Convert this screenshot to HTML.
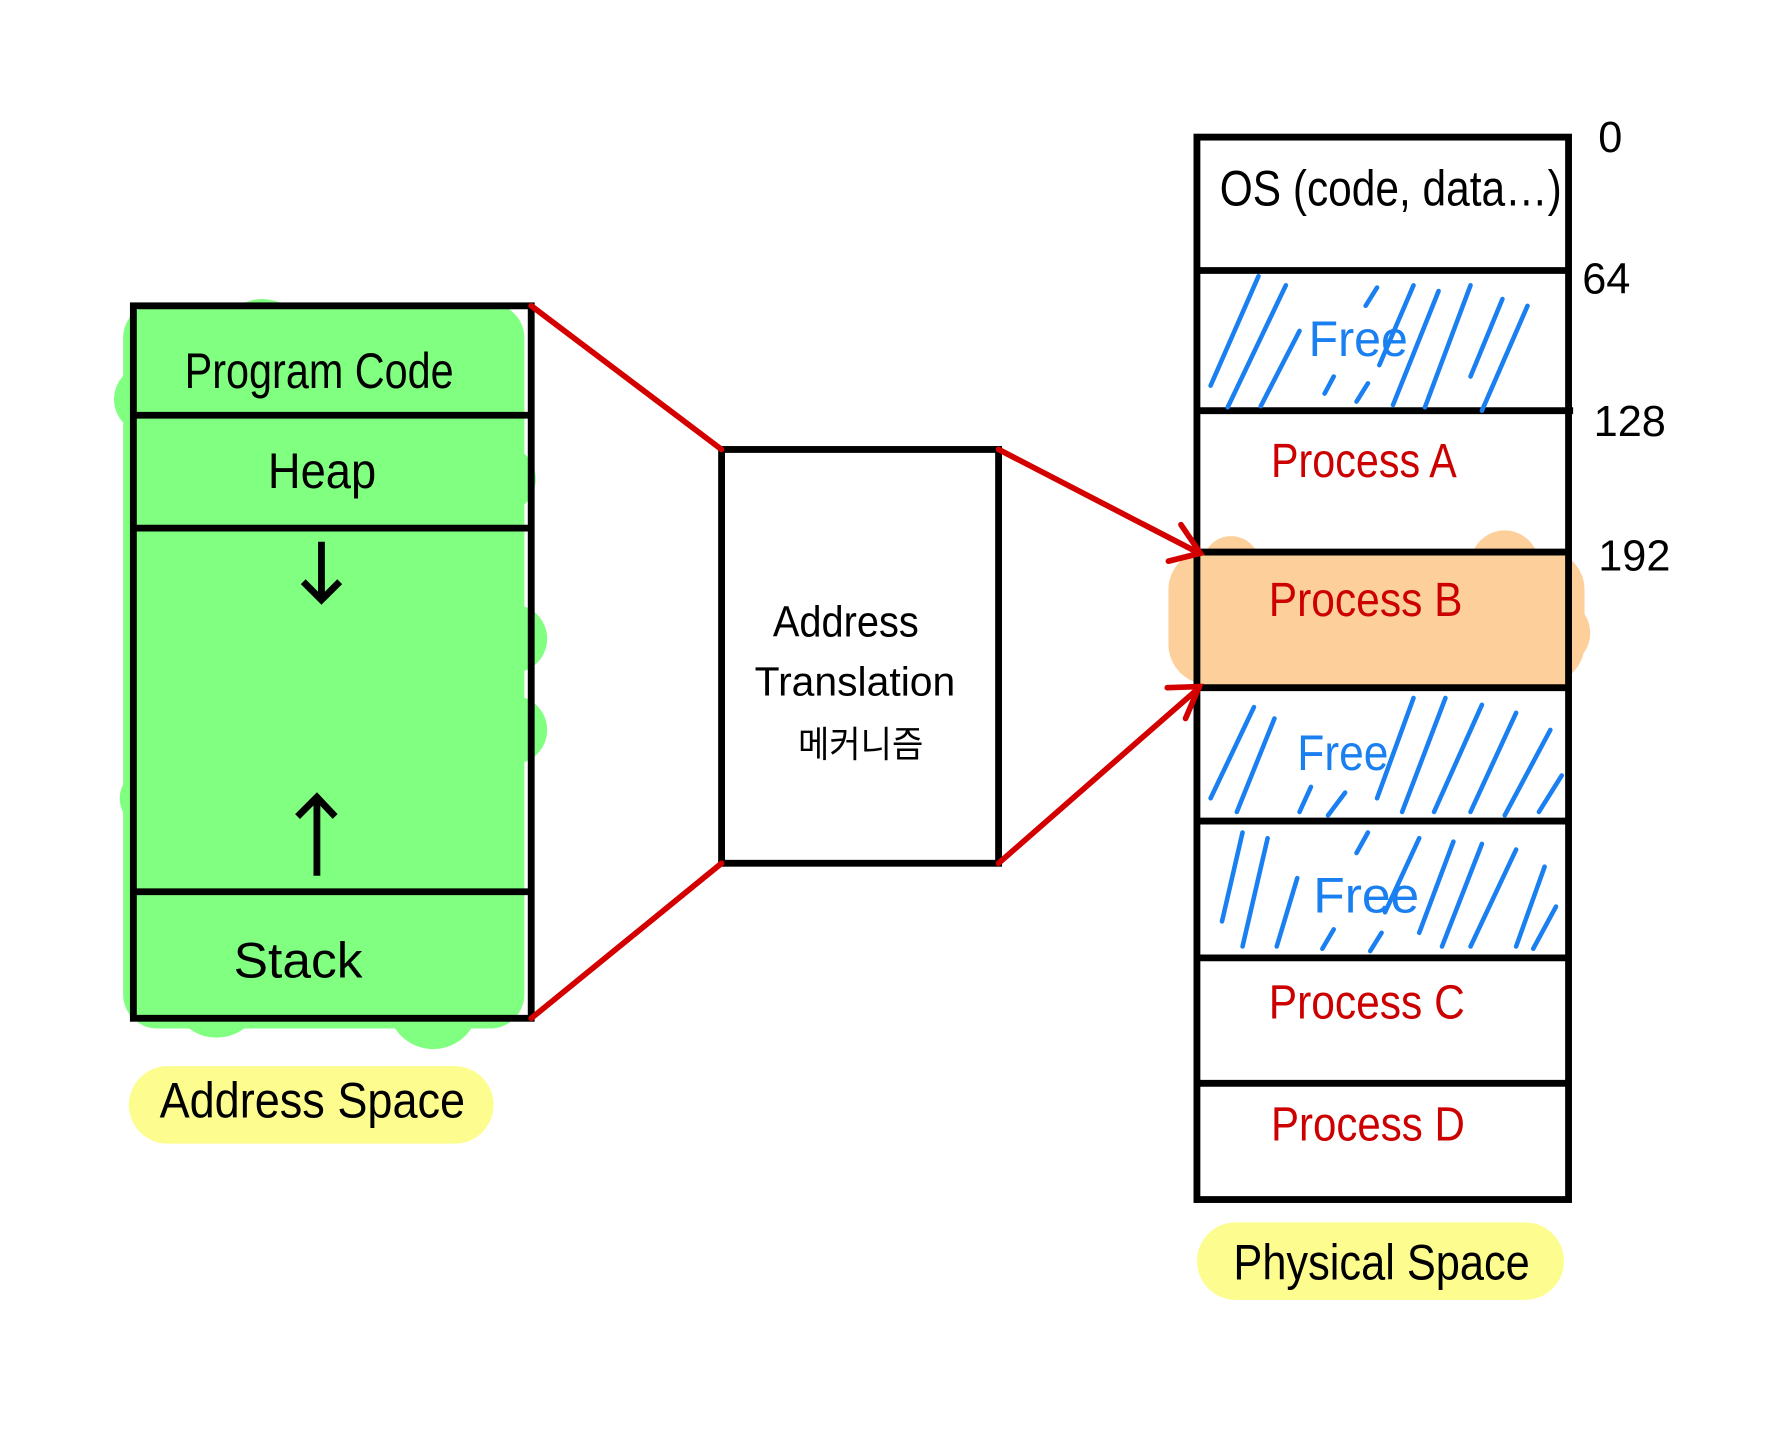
<!DOCTYPE html>
<html><head><meta charset="utf-8"><style>
html,body{margin:0;padding:0;background:#fff}
svg{display:block}
text{font-family:"Liberation Sans","Noto Sans CJK KR",sans-serif}
</style></head><body>
<svg width="1784" height="1429" viewBox="0 0 1565 1253" xmlns="http://www.w3.org/2000/svg">
<rect width="1565" height="1253" fill="#fff"/>
<g fill="#80ff80">
<rect x="108" y="266" width="352" height="636" rx="30"/>
<circle cx="230" cy="300" r="38"/><circle cx="420" cy="310" r="40"/>
<circle cx="130" cy="350" r="30"/><circle cx="440" cy="420" r="30"/>
<circle cx="450" cy="560" r="30"/><circle cx="450" cy="640" r="30"/>
<circle cx="130" cy="700" r="25"/><circle cx="190" cy="870" r="40"/>
<circle cx="380" cy="880" r="40"/>
</g>
<g fill="#fdcf9b">
<rect x="1025" y="482" width="365" height="118" rx="35"/>
<circle cx="1080" cy="495" r="25"/><circle cx="1320" cy="495" r="30"/>
<circle cx="1365" cy="555" r="30"/>
</g>
<rect x="1050" y="484" width="326" height="119" fill="#fdcf9b"/>
<rect x="113" y="935" width="320" height="68" rx="34" fill="#fdfd8f"/>
<rect x="1050" y="1072" width="322" height="68" rx="34" fill="#fdfd8f"/>
<g stroke="#000" stroke-width="6" fill="none">
<rect x="117" y="268" width="349" height="625"/>
<line x1="117" y1="364" x2="466" y2="364"/>
<line x1="117" y1="463" x2="466" y2="463"/>
<line x1="117" y1="782" x2="466" y2="782"/>
<rect x="633" y="394" width="243" height="363"/>
<rect x="1050" y="120" width="326" height="932"/>
<line x1="1048" y1="237" x2="1376" y2="237"/>
<line x1="1050" y1="360" x2="1380" y2="360"/>
<line x1="1050" y1="484" x2="1376" y2="484"/>
<line x1="1050" y1="603" x2="1376" y2="603"/>
<line x1="1050" y1="720" x2="1376" y2="720"/>
<line x1="1050" y1="840" x2="1376" y2="840"/>
<line x1="1050" y1="950" x2="1376" y2="950"/>
<line x1="282" y1="475" x2="282" y2="525"/>
<polyline points="266,510 282,526 298,510"/>
<line x1="278" y1="768" x2="278" y2="700"/>
<polyline points="261,716 278,699 294,716"/>
</g>
<g stroke="#d40000" stroke-width="5" fill="none" stroke-linecap="round">
<line x1="466" y1="268" x2="633" y2="394"/>
<line x1="466" y1="893" x2="633" y2="757"/>
<line x1="876" y1="394" x2="1052" y2="485"/>
<polyline points="1036,460 1053,485 1025,492"/>
<line x1="876" y1="757" x2="1052" y2="603"/>
<polyline points="1024,603 1052,602 1040,630"/>
</g>
<g stroke="#1a7ff0" stroke-width="4" stroke-linecap="round">
<line x1="1104" y1="242" x2="1062" y2="338"/><line x1="1128" y1="250" x2="1077" y2="357"/>
<line x1="1140" y1="290" x2="1106" y2="356"/><line x1="1208" y1="252" x2="1198" y2="268"/>
<line x1="1240" y1="250" x2="1210" y2="320"/><line x1="1262" y1="255" x2="1222" y2="355"/>
<line x1="1290" y1="250" x2="1250" y2="357"/><line x1="1318" y1="262" x2="1290" y2="330"/>
<line x1="1340" y1="268" x2="1300" y2="360"/><line x1="1170" y1="330" x2="1162" y2="345"/>
<line x1="1200" y1="336" x2="1190" y2="352"/>
<line x1="1100" y1="620" x2="1062" y2="700"/><line x1="1118" y1="630" x2="1085" y2="712"/>
<line x1="1240" y1="612" x2="1208" y2="700"/><line x1="1268" y1="612" x2="1230" y2="712"/>
<line x1="1300" y1="618" x2="1258" y2="712"/><line x1="1330" y1="625" x2="1290" y2="712"/>
<line x1="1360" y1="640" x2="1320" y2="715"/><line x1="1370" y1="680" x2="1350" y2="712"/>
<line x1="1150" y1="690" x2="1140" y2="712"/><line x1="1180" y1="695" x2="1165" y2="715"/>
<line x1="1090" y1="730" x2="1072" y2="808"/><line x1="1112" y1="735" x2="1090" y2="830"/>
<line x1="1138" y1="770" x2="1120" y2="830"/><line x1="1200" y1="730" x2="1190" y2="748"/>
<line x1="1245" y1="735" x2="1215" y2="800"/><line x1="1275" y1="738" x2="1245" y2="818"/>
<line x1="1300" y1="740" x2="1265" y2="830"/><line x1="1330" y1="745" x2="1290" y2="830"/>
<line x1="1355" y1="760" x2="1330" y2="830"/><line x1="1365" y1="795" x2="1345" y2="832"/>
<line x1="1170" y1="815" x2="1160" y2="832"/><line x1="1212" y1="818" x2="1202" y2="834"/>
</g>
<g fill="#000" font-size="44">
<text x="162" y="340" textLength="236" lengthAdjust="spacingAndGlyphs">Program Code</text>
<text x="235" y="428" textLength="95" lengthAdjust="spacingAndGlyphs">Heap</text>
<text x="205" y="857" textLength="113" lengthAdjust="spacingAndGlyphs">Stack</text>
<text x="140" y="980" textLength="268" lengthAdjust="spacingAndGlyphs">Address Space</text>
<text x="1082" y="1122" textLength="260" lengthAdjust="spacingAndGlyphs">Physical Space</text>
<text x="1070" y="180" textLength="300" lengthAdjust="spacingAndGlyphs">OS (code, data…)</text>
<text x="678" y="558" font-size="38" textLength="128" lengthAdjust="spacingAndGlyphs">Address</text>
<text x="662" y="610" font-size="36" textLength="176" lengthAdjust="spacingAndGlyphs">Translation</text>
<text x="700" y="664" font-size="32" textLength="110" lengthAdjust="spacingAndGlyphs">메커니즘</text>
<text x="1402" y="133" font-size="38">0</text>
<text x="1388" y="257" font-size="38">64</text>
<text x="1398" y="382" font-size="38">128</text>
<text x="1402" y="500" font-size="38">192</text>
</g>
<g fill="#cc0000" font-size="42">
<text x="1115" y="418" textLength="163" lengthAdjust="spacingAndGlyphs">Process A</text>
<text x="1113" y="540" textLength="170" lengthAdjust="spacingAndGlyphs">Process B</text>
<text x="1113" y="893" textLength="172" lengthAdjust="spacingAndGlyphs">Process C</text>
<text x="1115" y="1000" textLength="170" lengthAdjust="spacingAndGlyphs">Process D</text>
</g>
<g fill="#1a7ff0" font-size="44">
<text x="1148" y="312" textLength="87" lengthAdjust="spacingAndGlyphs">Free</text>
<text x="1138" y="675" textLength="80" lengthAdjust="spacingAndGlyphs">Free</text>
<text x="1152" y="800" textLength="93" lengthAdjust="spacingAndGlyphs">Free</text>
</g>
</svg>
</body></html>
